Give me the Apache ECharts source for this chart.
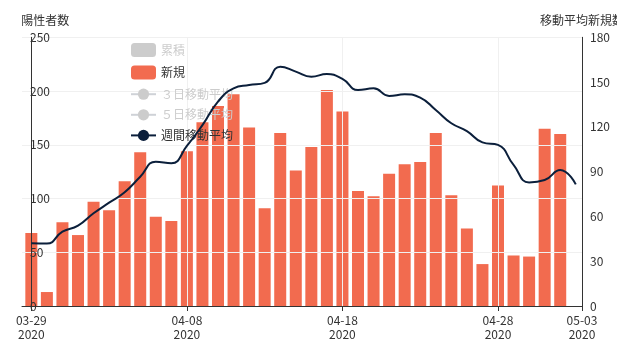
<!DOCTYPE html>
<html>
<head>
<meta charset="utf-8">
<script src="https://cdn.jsdelivr.net/npm/echarts@6/dist/echarts.min.js"></script>
<style>
html,body{margin:0;padding:0;background:#fff;}
#chart{width:617px;height:356px;}
</style>
</head>
<body>
<div id="chart"></div>
<script>
// Dates (day index 0 = 2020-03-29)
const dates = ['03-29','03-30','03-31','04-01','04-02','04-03','04-04','04-05','04-06','04-07',
  '04-08','04-09','04-10','04-11','04-12','04-13','04-14','04-15','04-16','04-17',
  '04-18','04-19','04-20','04-21','04-22','04-23','04-24','04-25','04-26','04-27',
  '04-28','04-29','04-30','05-01','05-02','05-03'];
const year = '2020';
// 新規 (daily new positives), 03-29 .. 05-02
const newCases = [68,13,78,66,97,89,116,143,83,79,
  144,171,186,197,166,91,161,126,148,201,
  181,107,102,123,132,134,161,103,72,39,
  112,47,46,165,160];
// 週間移動平均 (7-day moving average), 03-29 .. 05-03
const weeklyAvg = [42.0,41.8,49.8,53.8,62.1,69.2,76.2,86.6,96.7,95.6,
  107.2,121.2,136.9,145.8,148.0,149.5,160.3,157.0,153.6,155.4,
  152.1,144.7,145.8,140.7,141.8,139.6,131.3,122.4,117.2,109.6,
  107.9,94.5,82.8,84.4,91.1,81.5];
// hidden series (no data shown)
const cumulative = [];
const avg3 = [];
const avg5 = [];
// x tick positions (day indices) and labels
const xTickIdx = [0,10,20,30];
const xTickLabels = ['03-29','04-08','04-18','04-28','05-03'];
const leftTicks = [0,50,100,150,200,250];
const rightTicks = [0,30,60,90,120,150,180];

const X_MIN = -0.6, X_MAX = 35.4;
const tickVals = xTickIdx.concat([X_MAX]);

const font = '"Noto Sans CJK JP", "Noto Sans", sans-serif';
const chart = echarts.init(document.getElementById('chart'), null, {renderer:'canvas'});
chart.setOption({
  animation:false,
  textStyle:{fontFamily:font},
  grid:{left:22,right:35,top:37.3,bottom:50,containLabel:false,outerBoundsMode:'none'},
  legend:{
    orient:'vertical', left:125, top:38, padding:5,
    itemWidth:25, itemHeight:14, itemGap:8.6,
    textStyle:{fontSize:12,color:'#333',fontFamily:font},
    inactiveColor:'#ccc',
    data:['累積','新規','３日移動平均','５日移動平均','週間移動平均'],
    selected:{'累積':false,'３日移動平均':false,'５日移動平均':false}
  },
  xAxis:{
    type:'value', min:X_MIN, max:X_MAX, z:3,
    axisLine:{show:true,lineStyle:{color:'#333'}},
    axisTick:{show:true,length:5,customValues:tickVals,lineStyle:{color:'#333'}},
    axisLabel:{
      customValues:tickVals, margin:7, fontSize:12, color:'#333', lineHeight:14, fontFamily:font,
      formatter:function(v){
        const i = tickVals.indexOf(v);
        return (i>=0 ? xTickLabels[i] : dates[Math.round(v)]) + '\n' + year;
      }
    },
    splitLine:{show:true,lineStyle:{color:'#f0f0f0'}}
  },
  yAxis:[{
    type:'value', name:'陽性者数', min:leftTicks[0], max:leftTicks[leftTicks.length-1], interval:50,
    nameLocation:'end', nameGap:11,
    nameTextStyle:{fontSize:12,color:'#333',align:'left',padding:[0,0,0,-10],fontFamily:font},
    z:3,
    axisLine:{show:true,lineStyle:{color:'#333'}},
    axisTick:{show:false},
    axisLabel:{inside:true,margin:8,fontSize:12,color:'#333',fontFamily:font},
    splitLine:{show:true,lineStyle:{color:'#f0f0f0'}}
  },{
    type:'value', name:'移動平均新規数', min:rightTicks[0], max:rightTicks[rightTicks.length-1], interval:30,
    nameLocation:'end', nameGap:11, z:3,
    nameTextStyle:{fontSize:12,color:'#333',align:'center',fontFamily:font},
    position:'right',
    axisLine:{show:true,lineStyle:{color:'#333'}},
    axisTick:{show:false},
    axisLabel:{margin:8,fontSize:12,color:'#333',fontFamily:font},
    splitLine:{show:false}
  }],
  series:[
    {name:'累積',type:'bar',yAxisIndex:0,data:cumulative,itemStyle:{color:'#bbbbbb'},barWidth:12,z:1},
    {name:'新規',type:'bar',yAxisIndex:0,barWidth:12,z:1,
      itemStyle:{color:'#f26b4f'},
      data:newCases.map(function(v,i){return [i,v];})},
    {name:'３日移動平均',type:'line',yAxisIndex:1,data:avg3,symbol:'circle',showSymbol:false,itemStyle:{color:'#999'}},
    {name:'５日移動平均',type:'line',yAxisIndex:1,data:avg5,symbol:'circle',showSymbol:false,itemStyle:{color:'#999'}},
    {name:'週間移動平均',type:'line',yAxisIndex:1,smooth:true,symbol:'circle',symbolSize:8,showSymbol:false,
      itemStyle:{color:'#0b1f3b'},lineStyle:{color:'#0b1f3b',width:2},z:6,
      data:weeklyAvg.map(function(v,i){return [i,v];})}
  ]
});
</script>
</body>
</html>
